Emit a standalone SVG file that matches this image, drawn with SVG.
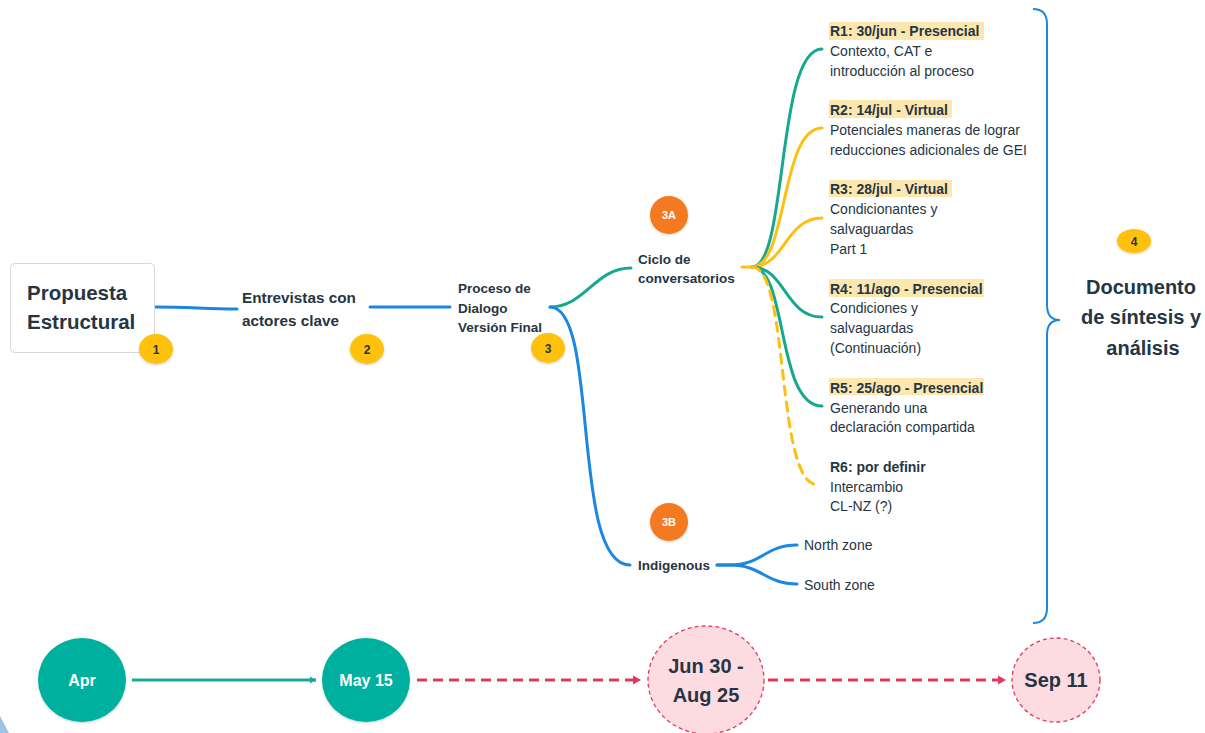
<svg xmlns="http://www.w3.org/2000/svg" width="1205" height="733" viewBox="0 0 1205 733">
<defs>
<style>
text{font-family:"Liberation Sans",Roboto,Arial,sans-serif;fill:#263544}
.b{font-weight:bold}
.main{font-size:20.5px;font-weight:bold}
.mid{font-size:15.3px;font-weight:bold}
.sub{font-size:13.5px;font-weight:bold}
.r{font-size:14px}
.badge{fill:#FFC107;filter:url(#sh)}
.bt{font-size:12px;font-weight:bold;text-anchor:middle}
.orange{fill:#F47A21;filter:url(#sh)}
.ot{font-size:11px;font-weight:bold;fill:#fff;text-anchor:middle}
.hl{fill:#FCE7AE}
.c{fill:none;stroke-width:3;stroke-linecap:round}
.blue{stroke:#1B87E0}
.teal{stroke:#17A88F}
.yel{stroke:#FDC010}
.tl{fill:#03B09E;filter:url(#sh)}
.pk{fill:#FDDCE1;stroke:#E0385A;stroke-width:1.3;stroke-dasharray:4 3}
.wt{fill:#fff;font-size:16px;font-weight:bold;text-anchor:middle}
.dt{font-size:20px;font-weight:bold;text-anchor:middle}
</style>
<filter id="sh" x="-30%" y="-30%" width="160%" height="160%">
<feDropShadow dx="0" dy="1" stdDeviation="1" flood-color="#000" flood-opacity="0.2"/>
</filter>
<marker id="at" markerWidth="8" markerHeight="8" refX="7" refY="4" orient="auto" markerUnits="userSpaceOnUse">
<path d="M1,0.5 L7,4 L1,7.5 Z" fill="#17A898"/>
</marker>
<marker id="ar" markerWidth="10" markerHeight="10" refX="9" refY="5" orient="auto" markerUnits="userSpaceOnUse">
<path d="M1,0.5 L9,5 L1,9.5 Z" fill="#E0385A"/>
</marker>
</defs>
<rect width="1205" height="733" fill="#fff"/>
<polygon points="0,716 9,733 0,733" fill="#9DC3E6"/>

<g id="connectors">
<path class="c blue" d="M155,307 C190,307 205,309 237,309"/>
<path class="c blue" d="M370,307 L450,307"/>
<path class="c teal" d="M550,307 C585,307 595,268 631,268"/>
<path class="c blue" d="M550,307 C600,307 570,565 630,565"/>
<path class="c blue" d="M717,565 L730,565 C762,565 765,545 797,545"/>
<path class="c blue" d="M717,565 L730,565 C762,565 765,584 797,584"/>
<path class="c teal" d="M752,267 C788,267 776,49 822,49"/>
<path class="c yel" d="M752,267 C788,267 780,128 822,128"/>
<path class="c yel" d="M752,267 C785,267 785,218 822,218"/>
<path class="c teal" d="M752,267 C785,267 785,317 822,317"/>
<path class="c teal" d="M752,267 C788,267 776,406 822,406"/>
<path class="c yel" stroke-dasharray="9 7" d="M752,267 C790,267 775,485 818,485"/>
<path class="c yel" d="M742,267 L754,267"/>
<path fill="none" stroke="#1B87E0" stroke-width="2" d="M1033,9 Q1047,9 1047,24 L1047,305 Q1047,320 1060,320 Q1047,320 1047,335 L1047,608 Q1047,623 1033,623"/>
<line x1="132" y1="680" x2="316" y2="680" stroke="#17A898" stroke-width="3" marker-end="url(#at)"/>
<line x1="417" y1="680" x2="641" y2="680" stroke="#E0385A" stroke-width="3" stroke-dasharray="10 6" marker-end="url(#ar)"/>
<line x1="768" y1="680" x2="1006" y2="680" stroke="#E0385A" stroke-width="3" stroke-dasharray="10 6" marker-end="url(#ar)"/>
</g>

<g id="n1">
<rect x="10.5" y="263.5" width="144" height="89" rx="4" fill="#fff" stroke="#d9d9d9"/>
<text class="main" x="27" y="300">Propuesta</text>
<text class="main" x="27" y="329">Estructural</text>
<ellipse class="badge" cx="156" cy="349" rx="17" ry="15"/>
<text class="bt" x="156" y="353.5">1</text>
</g>

<g id="n2">
<text class="mid" x="242" y="302.5">Entrevistas con</text>
<text class="mid" x="242" y="326">actores clave</text>
<ellipse class="badge" cx="367" cy="349" rx="17" ry="15"/>
<text class="bt" x="367" y="353.5">2</text>
</g>

<g id="n3">
<text class="sub" x="458" y="293">Proceso de</text>
<text class="sub" x="458" y="313">Dialogo</text>
<text class="sub" x="458" y="332">Versión Final</text>
<ellipse class="badge" cx="548" cy="348" rx="17" ry="15"/>
<text class="bt" x="548" y="352.5">3</text>
</g>

<g id="n3a">
<circle class="orange" cx="669" cy="215" r="19"/>
<text class="ot" x="669" y="219">3A</text>
<text class="sub" x="638" y="263.5">Ciclo de</text>
<text class="sub" x="638" y="283">conversatorios</text>
</g>

<g id="n3b">
<circle class="orange" cx="669" cy="522" r="19"/>
<text class="ot" x="669" y="526">3B</text>
<text class="sub" x="638" y="570">Indigenous</text>
</g>

<g id="north"><text class="r" x="804" y="550">North zone</text></g>
<g id="south"><text class="r" x="804" y="589.5">South zone</text></g>

<g id="r1">
<rect class="hl" x="829" y="22" width="155" height="18"/>
<text class="r b" x="830" y="36">R1: 30/jun - Presencial</text>
<text class="r" x="830" y="56">Contexto, CAT e</text>
<text class="r" x="830" y="75.5">introducción al proceso</text>
</g>
<g id="r2">
<rect class="hl" x="829" y="100" width="123" height="18"/>
<text class="r b" x="830" y="114.5">R2: 14/jul - Virtual</text>
<text class="r" x="830" y="134.5">Potenciales maneras de lograr</text>
<text class="r" x="830" y="154.5">reducciones adicionales de GEI</text>
</g>
<g id="r3">
<rect class="hl" x="829" y="180" width="123" height="17"/>
<text class="r b" x="830" y="194">R3: 28/jul - Virtual</text>
<text class="r" x="830" y="214">Condicionantes y</text>
<text class="r" x="830" y="234">salvaguardas</text>
<text class="r" x="830" y="254">Part 1</text>
</g>
<g id="r4">
<rect class="hl" x="829" y="279" width="155" height="18"/>
<text class="r b" x="830" y="293.5">R4: 11/ago - Presencial</text>
<text class="r" x="830" y="313">Condiciones y</text>
<text class="r" x="830" y="333">salvaguardas</text>
<text class="r" x="830" y="352.5">(Continuación)</text>
</g>
<g id="r5">
<rect class="hl" x="829" y="378" width="155" height="17"/>
<text class="r b" x="830" y="392.5">R5: 25/ago - Presencial</text>
<text class="r" x="830" y="412.5">Generando una</text>
<text class="r" x="830" y="432">declaración compartida</text>
</g>
<g id="r6">
<text class="r b" x="830" y="472">R6: por definir</text>
<text class="r" x="830" y="491.5">Intercambio</text>
<text class="r" x="830" y="511">CL-NZ (?)</text>
</g>

<g id="n4">
<ellipse class="badge" cx="1134" cy="241" rx="17" ry="12"/>
<text class="bt" x="1134" y="245.5">4</text>
<text class="dt" x="1141" y="294">Documento</text>
<text class="dt" x="1141" y="324">de síntesis y</text>
<text class="dt" x="1143" y="355">análisis</text>
</g>

<g id="t-apr">
<ellipse class="tl" cx="82" cy="680" rx="44" ry="42"/>
<text class="wt" x="82" y="685.5">Apr</text>
</g>
<g id="t-may">
<ellipse class="tl" cx="366" cy="680" rx="44" ry="42"/>
<text class="wt" x="366" y="685.5">May 15</text>
</g>
<g id="t-jun">
<ellipse class="pk" cx="706" cy="680" rx="58" ry="54"/>
<text class="dt" x="706" y="673">Jun 30 -</text>
<text class="dt" x="706" y="702">Aug 25</text>
</g>
<g id="t-sep">
<ellipse class="pk" cx="1056" cy="680" rx="44" ry="42"/>
<text class="dt" x="1056" y="687">Sep 11</text>
</g>
</svg>
